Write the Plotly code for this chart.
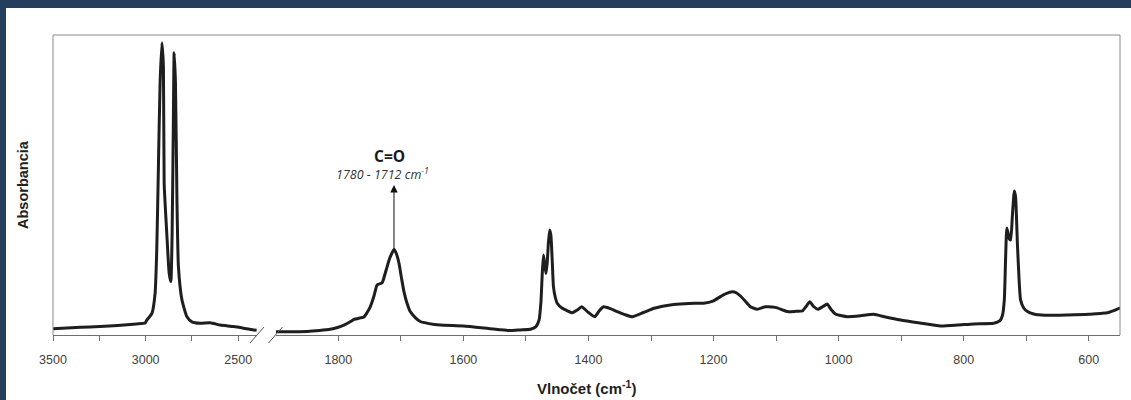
import plotly.graph_objects as go

# ---- data ----
wn_left = [3500, 3400, 3300, 3246, 3150, 3050, 3003, 2994, 2980, 2966, 2949, 2940, 2931, 2922, 2912,
           2904, 2900, 2886, 2873, 2864, 2857, 2851, 2846, 2839, 2831, 2823, 2804, 2777, 2750, 2705,
           2651, 2597, 2525, 2417, 2400]
abs_left = [0.021, 0.024, 0.027, 0.028, 0.032, 0.037, 0.040, 0.050, 0.060, 0.072, 0.139, 0.283, 0.561, 0.840, 0.974,
            0.894, 0.506, 0.340, 0.206, 0.178, 0.340, 0.673, 0.941, 0.840, 0.450, 0.228, 0.117, 0.061, 0.044, 0.039,
            0.041, 0.033, 0.028, 0.017, 0.016]

wn_right = [1900, 1887, 1850, 1830, 1813, 1800, 1791, 1781, 1775, 1765, 1759, 1754, 1749, 1743, 1738, 1730,
            1725, 1718, 1711, 1707, 1703, 1699, 1695, 1690, 1685, 1677, 1669, 1655, 1637, 1600, 1560, 1525,
            1509, 1493, 1484, 1479, 1476, 1474, 1472, 1470, 1468, 1466, 1464, 1462, 1460, 1458, 1456, 1453,
            1450, 1442, 1435, 1426, 1418, 1411, 1400, 1390, 1383, 1376, 1365, 1354, 1342, 1330, 1312, 1295,
            1269, 1253, 1230, 1216, 1200, 1189, 1180, 1170, 1163, 1157, 1148, 1141, 1130, 1117, 1101, 1090,
            1082, 1068, 1058, 1052, 1046, 1040, 1033, 1025, 1018, 1012, 1005, 995, 986, 965, 944, 925,
            901, 870, 837, 810, 784, 752, 742, 738, 735, 733, 731, 729, 727, 725, 722, 719,
            717, 714, 711, 709, 704, 698, 688, 670, 634, 600, 581, 570, 560, 551, 550]
abs_right = [0.011, 0.011, 0.012, 0.015, 0.019, 0.026, 0.033, 0.044, 0.052, 0.057, 0.060, 0.075, 0.094, 0.130, 0.167, 0.174,
             0.206, 0.255, 0.285, 0.270, 0.239, 0.190, 0.144, 0.105, 0.078, 0.058, 0.045, 0.038, 0.033, 0.030, 0.022, 0.015,
             0.017, 0.019, 0.028, 0.050, 0.110, 0.200, 0.267, 0.235, 0.205, 0.240, 0.310, 0.350, 0.330, 0.250, 0.161, 0.125,
             0.106, 0.089, 0.082, 0.074, 0.083, 0.094, 0.075, 0.061, 0.080, 0.094, 0.088, 0.078, 0.068, 0.061, 0.075, 0.089,
             0.100, 0.103, 0.106, 0.106, 0.114, 0.128, 0.138, 0.144, 0.140, 0.130, 0.110, 0.094, 0.086, 0.094, 0.092, 0.084,
             0.078, 0.079, 0.080, 0.095, 0.111, 0.095, 0.086, 0.095, 0.103, 0.085, 0.070, 0.064, 0.061, 0.064, 0.069, 0.060,
             0.050, 0.040, 0.030, 0.033, 0.037, 0.039, 0.048, 0.065, 0.117, 0.250, 0.357, 0.340, 0.320, 0.317, 0.400, 0.480,
             0.460, 0.300, 0.170, 0.117, 0.090, 0.078, 0.070, 0.066, 0.067, 0.069, 0.072, 0.074, 0.081, 0.089, 0.089]

ticks_left = [3500, 3000, 2500]
labels_left = ["3500", "3000", "2500"]
minor_left = [3250, 2750]
ticks_right = [1800, 1600, 1400, 1200, 1000, 800, 600]
labels_right = ["1800", "1600", "1400", "1200", "1000", "800", "600"]
minor_right = [1700, 1500, 1300, 1100, 900, 700]

peak_co = 1711
peak_co_abs = 0.285

# ---- layout geometry ----
W, H = 1131, 400
ML, MR, MT, MB = 53, 11, 35, 65
PW = W - ML - MR
PH = H - MT - MB


def px(xp):
    return (xp - ML) / PW


def py(yp):
    return (H - MB - yp) / PH


line_col = "#1e1e1e"
axis_col = "#6e6e6e"
frame_col = "#8a8a8a"
tick_font = dict(family="Liberation Sans, Arial, sans-serif", size=12.5, color="#404040")
trace_line = dict(color=line_col, width=3, shape="spline", smoothing=0.5)

fig = go.Figure()
fig.add_trace(go.Scatter(x=wn_left, y=abs_left, xaxis="x", yaxis="y", mode="lines",
                         line=trace_line, showlegend=False, hoverinfo="skip"))
fig.add_trace(go.Scatter(x=wn_right, y=abs_right, xaxis="x2", yaxis="y", mode="lines",
                         line=trace_line, showlegend=False, hoverinfo="skip"))

common_x = dict(showgrid=False, zeroline=False, showline=True, linecolor=axis_col, linewidth=1,
                ticks="outside", ticklen=5, tickcolor=axis_col, tickwidth=1, tickfont=tick_font,
                ticklabelstandoff=8, fixedrange=True)

shapes = [
    # top blue band and left blue bar
    dict(type="rect", xref="paper", yref="paper", x0=px(0), x1=px(W), y0=py(8), y1=py(0),
         fillcolor="#243e5e", line=dict(width=0)),
    dict(type="rect", xref="paper", yref="paper", x0=px(0), x1=px(6), y0=py(H), y1=py(0),
         fillcolor="#243e5e", line=dict(width=0)),
    # plot frame (top, left, right)
    dict(type="line", xref="paper", yref="paper", x0=0, x1=1, y0=1, y1=1, line=dict(color=frame_col, width=1)),
    dict(type="line", xref="paper", yref="paper", x0=0, x1=0, y0=0, y1=1, line=dict(color=frame_col, width=1)),
    dict(type="line", xref="paper", yref="paper", x0=1, x1=1, y0=0, y1=1, line=dict(color=frame_col, width=1)),
    # axis break marks
    dict(type="line", xref="paper", yref="paper", x0=px(250), x1=px(264), y0=py(343), y1=py(327),
         line=dict(color="#555555", width=1)),
    dict(type="line", xref="paper", yref="paper", x0=px(268.5), x1=px(282.5), y0=py(343), y1=py(327),
         line=dict(color="#555555", width=1)),
]

annotations = [
    dict(x=peak_co, y=py(185), xref="x2", yref="y", ax=peak_co, ay=peak_co_abs - 0.005,
         axref="x2", ayref="y", text="", showarrow=True, arrowhead=2, arrowsize=1.5,
         arrowwidth=1, arrowcolor="#111111"),
    dict(x=1718, y=py(156), xref="x2", yref="y", text="<b>C=O</b>", showarrow=False,
         font=dict(family="Open Sans, sans-serif", size=15.5, color="#1a1a1a")),
    dict(x=1730, y=py(174), xref="x2", yref="y", text="<i>1780 - 1712 cm<sup>-1</sup></i>", showarrow=False,
         font=dict(family="Open Sans, sans-serif", size=12.5, color="#333333")),
    dict(x=px(23), y=0.5, xref="paper", yref="paper", text="<b>Absorbancia</b>", textangle=-90,
         showarrow=False, xanchor="center", yanchor="middle",
         font=dict(family="Liberation Sans, Arial, sans-serif", size=14.5, color="#222222")),
    dict(x=0.5, y=py(387), xref="paper", yref="paper", text="<b>Vlnočet (cm<sup>-1</sup>)</b>",
         showarrow=False, xanchor="center", yanchor="middle",
         font=dict(family="Liberation Sans, Arial, sans-serif", size=15, color="#222222")),
]

minor_style = dict(ticks="outside", ticklen=5, tickcolor=axis_col, tickwidth=1, showgrid=False)

fig.update_layout(
    width=W, height=H,
    margin=dict(l=ML, r=MR, t=MT, b=MB, autoexpand=False),
    paper_bgcolor="white", plot_bgcolor="white",
    xaxis=dict(domain=[0, px(256.8)], range=[3500, 2400], tickvals=ticks_left, ticktext=labels_left,
               anchor="y", minor=dict(tickvals=minor_left, **minor_style), **common_x),
    xaxis2=dict(domain=[px(275.8), 1], range=[1900, 550], tickvals=ticks_right, ticktext=labels_right,
                anchor="y", minor=dict(tickvals=minor_right, **minor_style), **common_x),
    yaxis=dict(domain=[0, 1], range=[0, 1], showgrid=False, zeroline=False, showline=False,
               showticklabels=False, ticks="", fixedrange=True),
    shapes=shapes,
    annotations=annotations,
    showlegend=False,
)

fig.write_html("out.html", config={"displayModeBar": False},
               post_script="document.body.style.margin='0';document.body.style.overflow='hidden';")
